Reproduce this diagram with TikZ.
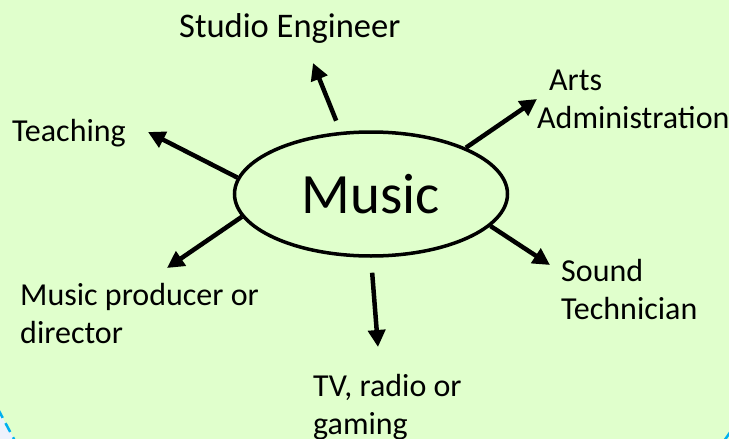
\documentclass[tikz,border=0pt]{standalone}
\usepackage{fontspec}
\setmainfont{Carlito}
\usetikzlibrary{arrows.meta, shapes.geometric}
\definecolor{bggreen}{RGB}{224,255,204}
\definecolor{edgecyan}{RGB}{0,176,240}
\definecolor{paleblue}{RGB}{238,242,252}

\begin{document}
\begin{tikzpicture}[x=1pt, y=-1pt,
  hub/.style={draw, ellipse, line width=3.5pt, fill=bggreen, minimum width=273pt, minimum height=124pt, inner sep=0pt, font=\fontsize{57}{60}\selectfont},
  lbl/.style={anchor=north west, inner sep=0pt, align=left, font=\fontsize{32}{38}\selectfont},
  spoke/.style={-{Triangle[length=17pt, width=17pt]}, line width=4.5pt}
]
  \useasboundingbox (0,0) rectangle (729,439);
  \fill[bggreen] (0,0) rectangle (729,439);
  % corners of the page frame
  \fill[paleblue] (0,413) -- (14,439) -- (0,439) -- cycle;
  \draw[edgecyan, line width=2.5pt, dash pattern=on 10pt off 6pt] (-2,409) -- (15,441);
  \draw[edgecyan, line width=2.5pt] (724,441) -- (731,431);

  \node[hub] (music) at (371,194) {Music};

  \node[lbl, font=\fontsize{34.5}{40}\selectfont] (studio) at (179,13) {Studio Engineer};
  \node[lbl] (arts) at (537,70) {\hspace*{12pt}Arts\\Administration};
  \node[lbl] (teaching) at (12,119) {Teaching};
  \node[lbl] (producer) at (20,283) {Music producer or\\director};
  \node[lbl] (tv) at (313,374) {TV, radio or\\gaming};
  \node[lbl] (sound) at (561,259) {Sound\\Technician};

  \coordinate (studiotip) at (313,63);
  \coordinate (artstip) at (537,99);
  \coordinate (teachtip) at (148,132);
  \coordinate (prodtip) at (167,268);
  \coordinate (tvtip) at (378,347);
  \coordinate (soundtip) at (550,265);

  \draw[spoke, shorten <=12pt] (music.116) -- (studiotip);
  \draw[spoke] (music.26) -- (artstip);
  \draw[spoke] (music.173) -- (teachtip);
  \draw[spoke] (music.190) -- (prodtip);
  \draw[spoke, shorten <=15pt] (music.south) -- (tvtip);
  \draw[spoke] (music.345) -- (soundtip);
\end{tikzpicture}
\end{document}
